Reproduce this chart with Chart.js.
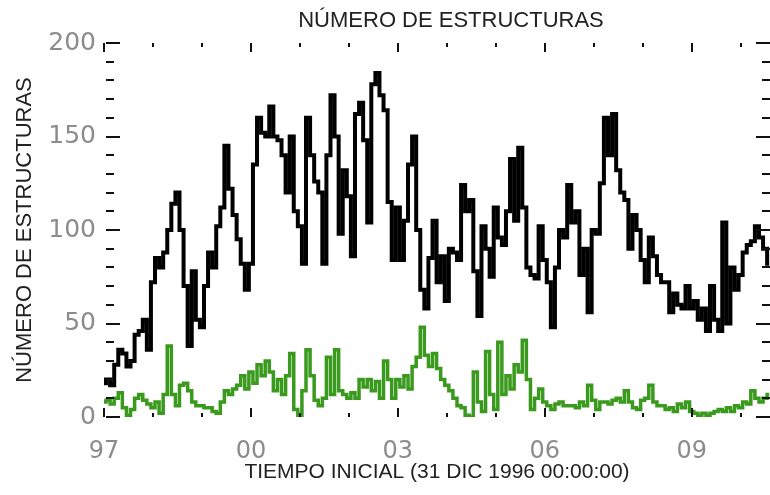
<!DOCTYPE html>
<html>
<head>
<meta charset="utf-8">
<script src="https://cdn.jsdelivr.net/npm/chart.js@4"></script>
<style>
    body { margin: 0; background: #fff; }
    #wrap { width: 770px; height: 495px; }
</style>
</head>
<body>
<div id="wrap"><canvas id="grafico" width="770" height="495"></canvas></div>
<script>
// years since 31 Dec 1996, one value per month
const serieNegra = [
    18, 20, 17, 28, 36, 34, 27, 30, 44, 46, 52, 36, 72, 85, 80, 88, 100, 114, 120, 100,
    70, 38, 78, 52, 48, 70, 88, 80, 102, 112, 145, 122, 108, 95, 82, 68, 82, 135, 160, 152,
    150, 166, 150, 148, 140, 120, 150, 110, 102, 82, 160, 140, 126, 120, 82, 140, 172, 150, 98, 132,
    118, 86, 162, 168, 148, 104, 178, 184, 172, 164, 115, 84, 112, 84, 105, 135, 150, 100, 68, 58,
    85, 105, 72, 86, 62, 90, 88, 84, 124, 110, 116, 78, 54, 102, 90, 75, 112, 96, 92, 110,
    138, 105, 144, 112, 80, 76, 74, 102, 84, 72, 48, 80, 100, 96, 124, 104, 110, 76, 90, 56,
    100, 98, 125, 160, 140, 162, 132, 120, 116, 90, 108, 100, 84, 72, 96, 86, 76, 72, 72, 56,
    66, 60, 58, 70, 58, 62, 52, 58, 46, 70, 52, 46, 104, 50, 80, 68, 76, 88, 92, 94,
    102, 96, 90, 82
];
const serieVerde = [
    8, 9, 7, 10, 13, 5, 1, 4, 10, 12, 9, 7, 5, 8, 2, 12, 38, 12, 6, 17,
    18, 14, 8, 6, 6, 5, 5, 3, 2, 8, 14, 12, 15, 17, 22, 15, 24, 18, 28, 22,
    30, 24, 14, 20, 12, 22, 34, 4, 0, 14, 36, 22, 9, 6, 10, 32, 12, 36, 14, 12,
    10, 13, 10, 20, 16, 20, 14, 19, 10, 30, 20, 10, 20, 16, 22, 15, 27, 32, 48, 33,
    27, 34, 26, 20, 17, 14, 10, 6, 5, 1, 0, 24, 8, 3, 35, 12, 4, 40, 12, 22,
    15, 28, 24, 41, 20, 4, 10, 15, 8, 6, 4, 7, 8, 6, 6, 6, 5, 8, 6, 17,
    9, 4, 8, 8, 7, 9, 10, 8, 14, 8, 5, 4, 9, 10, 17, 8, 6, 6, 4, 5,
    3, 7, 5, 8, 3, 2, 1, 2, 1, 2, 3, 4, 3, 5, 3, 6, 5, 8, 7, 14,
    10, 8, 10, 12
];
const anioInicial = 1997;
const etiquetasX = [0, 3, 6, 9, 12]; // 97, 00, 03, 06, 09
const ticksY = [0, 50, 100, 150, 200];

const meses = serieNegra.map((_, i) => i / 12);

const fuente = '"Liberation Sans", Arial, sans-serif';
const fuenteTicks = '"DejaVu Sans", sans-serif';

// IDL-like ticks drawn inside the frame
const ticksInternos = {
    id: 'ticksInternos',
    afterDatasetsDraw(chart) {
        const ctx = chart.ctx;
        const area = chart.chartArea;
        const x = chart.scales.x;
        const y = chart.scales.y;
        ctx.save();
        ctx.strokeStyle = '#111';
        ctx.lineWidth = 2;
        for (let v = 0; v <= 200; v += 10) {
            const py = Math.round(y.getPixelForValue(v));
            const largo = v % 50 === 0 ? 14 : 8;
            ctx.beginPath();
            ctx.moveTo(area.left + 2, py);
            ctx.lineTo(area.left + 2 + largo, py);
            ctx.moveTo(area.right, py);
            ctx.lineTo(area.right - largo, py);
            ctx.stroke();
        }
        for (let v = 0; v <= 13; v++) {
            const px = Math.round(x.getPixelForValue(v));
            const largo = v % 3 === 0 ? 9 : 4;
            ctx.beginPath();
            ctx.moveTo(px, area.bottom);
            ctx.lineTo(px, area.bottom - largo);
            ctx.moveTo(px, area.top);
            ctx.lineTo(px, area.top + largo);
            ctx.stroke();
        }
        ctx.restore();
    },
    afterDraw(chart) {
        const ctx = chart.ctx;
        ctx.save();
        ctx.fillStyle = '#222';
        ctx.font = '22px ' + fuente;
        ctx.textAlign = 'center';
        ctx.textBaseline = 'middle';
        ctx.fillText('NÚMERO DE ESTRUCTURAS', 451, 21);
        ctx.restore();
    }
};

const grafico = new Chart(document.getElementById('grafico').getContext('2d'), {
    type: 'line',
    data: {
        datasets: [{
            label: 'total',
            data: serieNegra.map((v, i) => ({ x: meses[i], y: v })),
            borderColor: '#000',
            borderWidth: 4,
            stepped: 'middle',
            pointRadius: 0,
            fill: false
        }, {
            label: 'verde',
            data: serieVerde.map((v, i) => ({ x: meses[i], y: v })),
            borderColor: '#3a9a1e',
            borderWidth: 3.5,
            stepped: 'middle',
            pointRadius: 0,
            fill: false
        }]
    },
    options: {
        responsive: false,
        animation: false,
        layout: { padding: { top: 43, right: 0, left: 0, bottom: 0 } },
        plugins: {
            legend: { display: false },
            tooltip: { enabled: false }
        },
        scales: {
            x: {
                type: 'linear',
                min: 0,
                max: 13.6,
                border: { display: false },
                grid: { display: false, drawTicks: false },
                afterBuildTicks(scale) {
                    scale.ticks = etiquetasX.map(v => ({ value: v }));
                },
                afterFit(scale) { scale.height = 78; },
                ticks: {
                    padding: 20,
                    color: '#8c8c8c',
                    font: { family: fuenteTicks, size: 24 },
                    maxRotation: 0,
                    callback: v => String((anioInicial + v) % 100).padStart(2, '0')
                },
                title: {
                    display: true,
                    text: 'TIEMPO INICIAL (31 DIC 1996 00:00:00)',
                    color: '#222',
                    font: { family: fuente, size: 21 },
                    padding: { top: 0, bottom: 10 }
                }
            },
            y: {
                min: 0,
                max: 200,
                border: { display: false },
                grid: { display: false, drawTicks: false },
                afterBuildTicks(scale) {
                    scale.ticks = ticksY.map(v => ({ value: v }));
                },
                afterFit(scale) { scale.width = 104; },
                ticks: {
                    padding: 8,
                    color: '#8c8c8c',
                    font: { family: fuenteTicks, size: 25 }
                },
                title: {
                    display: true,
                    text: 'NÚMERO DE ESTRUCTURAS',
                    color: '#222',
                    font: { family: fuente, size: 22 },
                    padding: { top: 12, bottom: 0 }
                }
            }
        }
    },
    plugins: [ticksInternos]
});
</script>
</body>
</html>
